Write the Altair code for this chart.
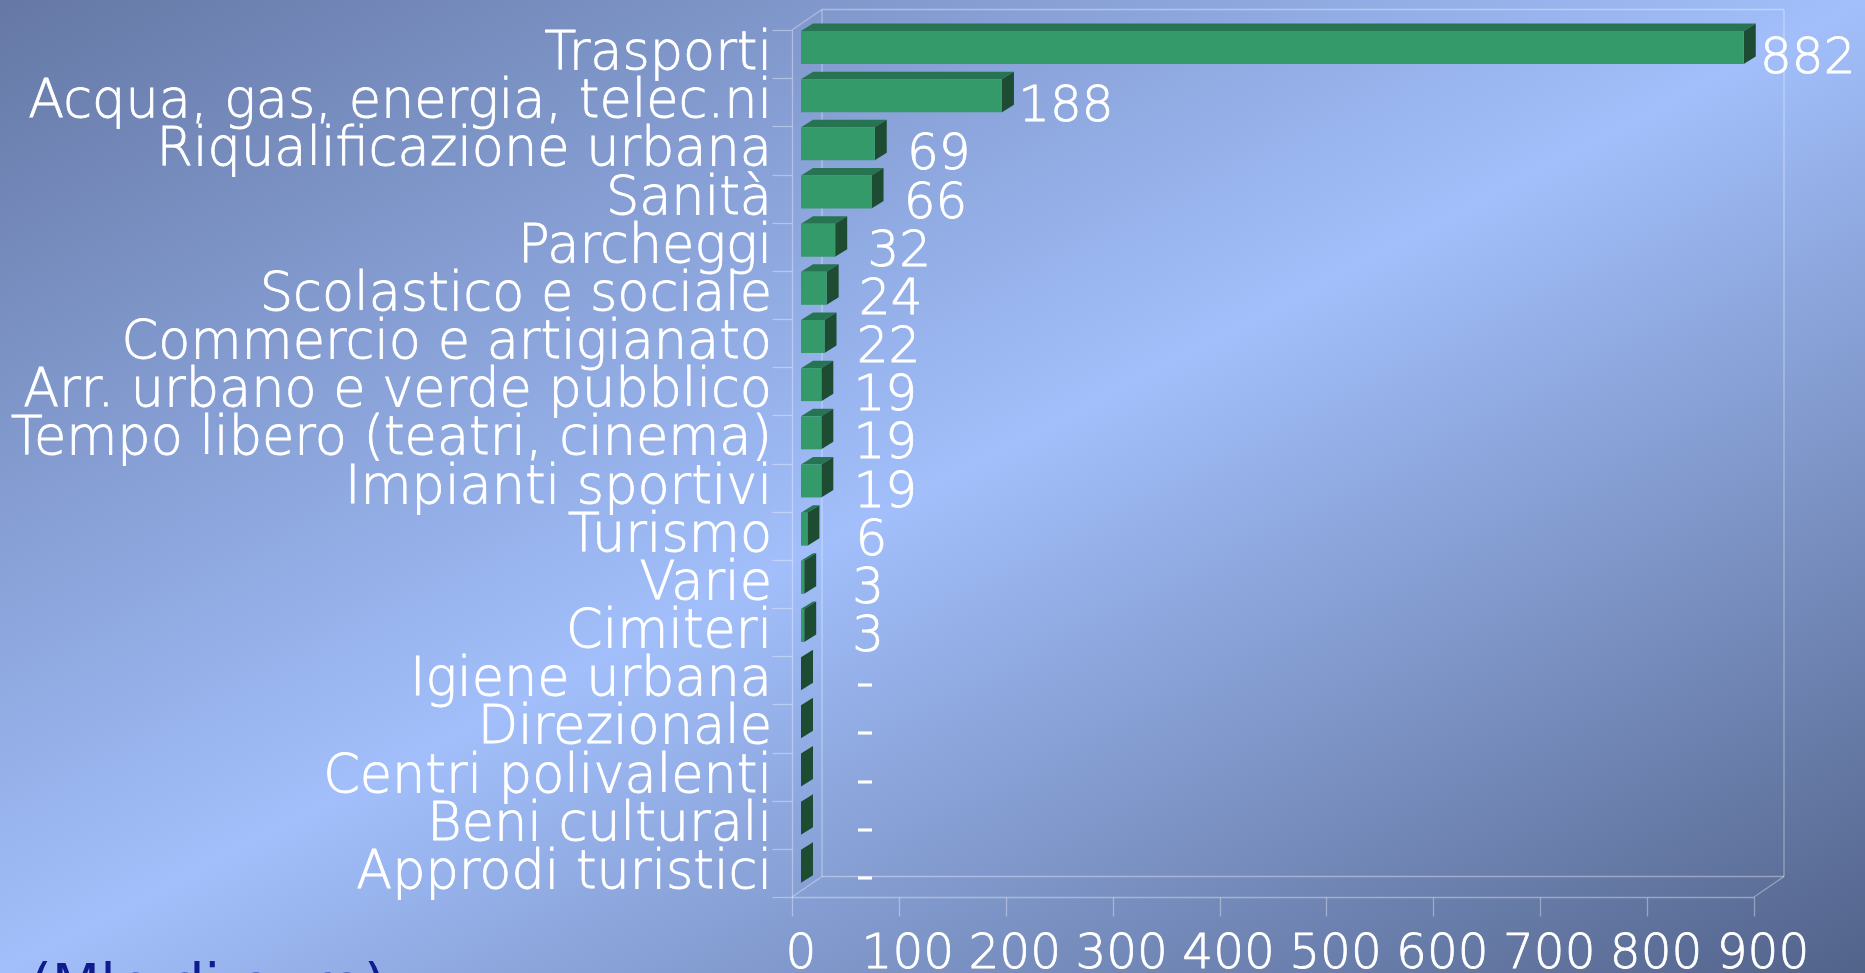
import altair as alt
import pandas as pd

# ---- data -------------------------------------------------------------
categories = [
    "Trasporti",
    "Acqua, gas, energia, telec.ni",
    "Riqualificazione urbana",
    "Sanità",
    "Parcheggi",
    "Scolastico e sociale",
    "Commercio e artigianato",
    "Arr. urbano e verde pubblico",
    "Tempo libero (teatri, cinema)",
    "Impianti sportivi",
    "Turismo",
    "Varie",
    "Cimiteri",
    "Igiene urbana",
    "Direzionale",
    "Centri polivalenti",
    "Beni culturali",
    "Approdi turistici",
]
values = [882, 188, 69, 66, 32, 24, 22, 19, 19, 19, 6, 3, 3, 0, 0, 0, 0, 0]
value_labels = [str(v) if v else "-" for v in values]
x_ticks = [0, 100, 200, 300, 400, 500, 600, 700, 800, 900]
unit_note = "(Mln di euro)"

# ---- layout (pixels) --------------------------------------------------
PLOT_W, PLOT_H = 962, 867
PAD = {"left": 792, "top": 30, "right": 111, "bottom": 76}
X_MAX = 900
n = len(categories)
Y_LO, Y_HI = -0.5, n - 0.5

px_per_x = PLOT_W / X_MAX
px_per_row = PLOT_H / (Y_HI - Y_LO)


def ux(px):
    return px / px_per_x


def uy(px):
    return px / px_per_row


# 3D look: bars sit half-way into the box depth
FRONT_DX, FRONT_DY = ux(9), uy(-6.6)
HALF = uy(16.5)
DEPTH_DX, DEPTH_DY = ux(12), uy(-7.5)
BOX_DX, BOX_DY = ux(30), uy(-20.5)

FRONT_C = "#349a69"
TOP_C = "#277452"
SIDE_C = "#1d4c33"
LINE_C = "white"
LINE_OP = 0.35
FONT = "DejaVu Sans"
WEIGHT = 200
# a thin outline gives the light face a little more body
TXT = dict(font=FONT, fontWeight=WEIGHT, color="white",
           stroke="white", strokeWidth=0.8)

xs = alt.Scale(domain=[0, X_MAX], nice=False, zero=False)
ys = alt.Scale(domain=[Y_LO, Y_HI], reverse=True, nice=False, zero=False)

x_axis = alt.Axis(
    values=x_ticks, title=None, grid=False, zindex=1, labels=False,
    domainColor=LINE_C, domainOpacity=LINE_OP, domainWidth=1.3,
    tickColor=LINE_C, tickOpacity=LINE_OP, tickSize=19, tickWidth=1.3,
)
y_axis = alt.Axis(
    values=[i - 0.5 for i in range(n + 1)], title=None, grid=False, zindex=1,
    labels=False,
    domainColor=LINE_C, domainOpacity=LINE_OP, domainWidth=1.3,
    tickColor=LINE_C, tickOpacity=LINE_OP, tickSize=20, tickWidth=1.3,
)

# ---- tables built from the values -------------------------------------
bars = pd.DataFrame({
    "cat": categories,
    "value": values,
    "label": value_labels,
    "row": list(range(n)),
})
bars["zero"] = 0
bars["x0"] = FRONT_DX
bars["x1"] = bars["value"] + FRONT_DX
bars["y0"] = bars["row"] + FRONT_DY - HALF
bars["y1"] = bars["row"] + FRONT_DY + HALF

top_rows, side_rows = [], []
for r, v in zip(range(n), values):
    y_top = r + FRONT_DY - HALF
    y_bot = r + FRONT_DY + HALF
    top_rows.append({"row": r, "y": y_top, "xa": FRONT_DX, "xb": v + FRONT_DX})
    top_rows.append({"row": r, "y": y_top + DEPTH_DY,
                     "xa": FRONT_DX + DEPTH_DX, "xb": v + FRONT_DX + DEPTH_DX})
    side_rows.append({"row": r, "x": v + FRONT_DX, "ya": y_top, "yb": y_bot})
    side_rows.append({"row": r, "x": v + FRONT_DX + DEPTH_DX,
                      "ya": y_top + DEPTH_DY, "yb": y_bot + DEPTH_DY})
tops = pd.DataFrame(top_rows)
sides = pd.DataFrame(side_rows)

ticks = pd.DataFrame({"tick": x_ticks})
ticks["text"] = ticks["tick"].astype(str)

bx0, bx1 = BOX_DX, X_MAX + BOX_DX
by0, by1 = Y_LO + BOX_DY, Y_HI + BOX_DY
box = pd.DataFrame([
    {"x": bx0, "x2": bx1, "y": by0, "y2": by0},          # back wall top
    {"x": bx1, "x2": bx1, "y": by0, "y2": by1},          # back wall right
    {"x": bx0, "x2": bx0, "y": by0, "y2": by1},          # back wall left
    {"x": bx0, "x2": bx1, "y": by1, "y2": by1},          # floor back edge
    {"x": 0, "x2": bx0, "y": Y_HI, "y2": by1},           # floor left edge
    {"x": X_MAX, "x2": bx1, "y": Y_HI, "y2": by1},       # floor right edge
    {"x": 0, "x2": bx0, "y": Y_LO, "y2": by0},           # side wall top edge
])

# ---- layers -----------------------------------------------------------
W_ALL = PAD["left"] + PLOT_W + PAD["right"]
H_ALL = PAD["top"] + PLOT_H + PAD["bottom"]

backdrop = alt.Chart(pd.DataFrame({"k": [0]})).mark_rect(
    fill=alt.LinearGradient(
        gradient="linear", x1=0, y1=0, x2=1, y2=1,
        stops=[
            alt.GradientStop(color="#6578a5", offset=0),
            alt.GradientStop(color="#a2bffb", offset=0.5),
            alt.GradientStop(color="#52638a", offset=1),
        ],
    )
).encode(
    x=alt.value(-PAD["left"]), x2=alt.value(W_ALL - PAD["left"]),
    y=alt.value(-PAD["top"]), y2=alt.value(H_ALL - PAD["top"]),
)

box_lines = alt.Chart(box).mark_rule(
    color=LINE_C, opacity=LINE_OP, strokeWidth=1.3
).encode(
    x=alt.X("x:Q", scale=xs, axis=x_axis), x2="x2:Q",
    y=alt.Y("y:Q", scale=ys, axis=y_axis), y2="y2:Q",
)

front = alt.Chart(bars).mark_rect(color=FRONT_C).encode(
    x=alt.X("x0:Q", scale=xs, axis=x_axis), x2="x1:Q",
    y=alt.Y("y0:Q", scale=ys, axis=y_axis), y2="y1:Q",
)

top = alt.Chart(tops).mark_area(orient="horizontal", color=TOP_C).encode(
    y=alt.Y("y:Q", scale=ys, axis=y_axis),
    x=alt.X("xa:Q", scale=xs, axis=x_axis), x2="xb:Q",
    detail="row:N",
)

side = alt.Chart(sides).mark_area(orient="vertical", color=SIDE_C).encode(
    x=alt.X("x:Q", scale=xs, axis=x_axis),
    y=alt.Y("ya:Q", scale=ys, axis=y_axis), y2="yb:Q",
    detail="row:N",
)

cat_text = alt.Chart(bars).mark_text(
    align="right", baseline="alphabetic", dx=-20, dy=15,
    fontSize=52.5, **TXT,
).encode(
    x=alt.X("zero:Q", scale=xs, axis=x_axis),
    y=alt.Y("row:Q", scale=ys, axis=y_axis),
    text="cat:N",
)

val_text = alt.Chart(bars).mark_text(
    align="center", baseline="alphabetic", dx=73, dy=19,
    fontSize=50, **TXT,
).encode(
    x=alt.X("value:Q", scale=xs, axis=x_axis),
    y=alt.Y("row:Q", scale=ys, axis=y_axis),
    text="label:N",
)

tick_text = alt.Chart(ticks).mark_text(
    align="center", baseline="alphabetic", dx=9,
    fontSize=48.5, **TXT,
).encode(
    x=alt.X("tick:Q", scale=xs, axis=x_axis),
    y=alt.value(968 - PAD["top"]),
    text="text:N",
)

note = alt.Chart(pd.DataFrame({"t": [unit_note]})).mark_text(
    align="left", baseline="alphabetic",
    font=FONT, fontSize=56, color="#0f1b8f",
).encode(
    x=alt.value(30 - PAD["left"]), y=alt.value(1003 - PAD["top"]),
    text="t:N",
)

chart = alt.layer(
    backdrop, box_lines, top, side, front, cat_text, val_text, tick_text, note
).properties(
    width=PLOT_W, height=PLOT_H,
    autosize=alt.AutoSizeParams(type="none"),
    padding=PAD,
    background="#8ea8e0",
).configure_view(stroke=None)

chart.save("out.html", embed_options={"renderer": "svg", "actions": False})
